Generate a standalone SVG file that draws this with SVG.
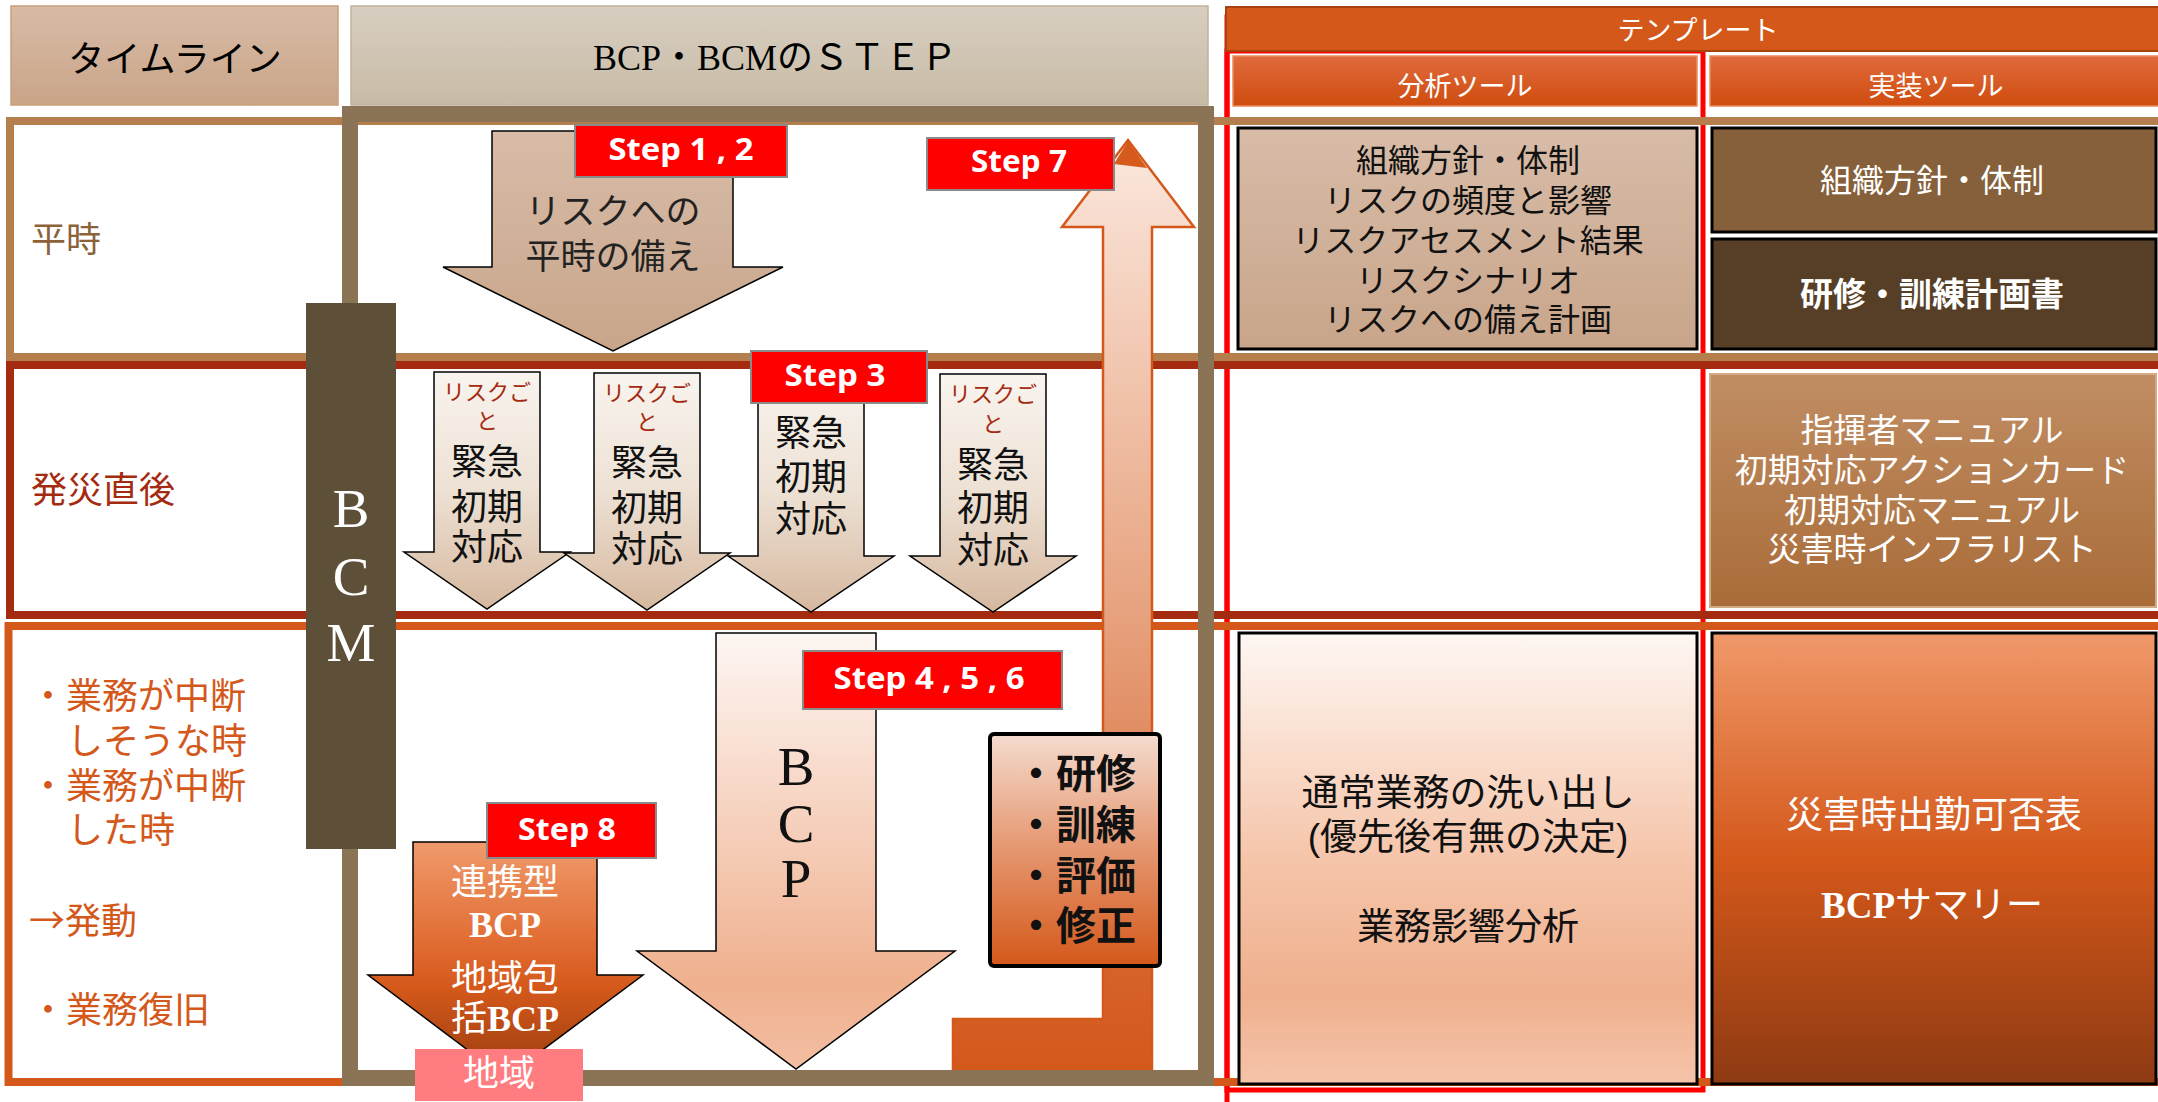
<svg xmlns="http://www.w3.org/2000/svg" width="2158" height="1102" viewBox="0 0 2158 1102">
<defs>
<style>
.jp{font-family:"Liberation Sans","Noto Sans CJK JP",sans-serif}
.cjk{font-family:"Noto Sans CJK JP",sans-serif}
.ser{font-family:"Liberation Serif","Noto Sans CJK JP",serif}
.step{font-family:"Noto Sans","Liberation Sans",sans-serif;font-weight:700;fill:#fff;font-size:30px;text-anchor:middle}
.stepbox{fill:#ff0000;stroke:#8a8a8a;stroke-width:2}
.mid{text-anchor:middle}
.arr{stroke:#000;stroke-width:1.5}
.tbox{stroke:#000;stroke-width:3}
</style>
<linearGradient id="gTime" x1="0" y1="0" x2="0" y2="1"><stop offset="0" stop-color="#d8bba5"/><stop offset="1" stop-color="#c9a589"/></linearGradient>
<linearGradient id="gStepHead" x1="0" y1="0" x2="0" y2="1"><stop offset="0" stop-color="#d8cfc2"/><stop offset="1" stop-color="#c8bba5"/></linearGradient>
<linearGradient id="gTool" x1="0" y1="0" x2="0" y2="1"><stop offset="0" stop-color="#e06b3d"/><stop offset="1" stop-color="#cf4c0e"/></linearGradient>
<linearGradient id="gTan" x1="0" y1="0" x2="0" y2="1"><stop offset="0" stop-color="#d8bca8"/><stop offset="1" stop-color="#c8a58a"/></linearGradient>
<linearGradient id="gS3" x1="0" y1="0" x2="0" y2="1"><stop offset="0" stop-color="#f9f4ef"/><stop offset="0.5" stop-color="#ede1d4"/><stop offset="1" stop-color="#d6b89f"/></linearGradient>
<linearGradient id="gBCP" x1="0" y1="0" x2="0" y2="1"><stop offset="0" stop-color="#fdf6f3"/><stop offset="0.5" stop-color="#f5cbb5"/><stop offset="0.8" stop-color="#efb08e"/><stop offset="1" stop-color="#f3bea2"/></linearGradient>
<linearGradient id="gS8" x1="0" y1="0" x2="0" y2="1"><stop offset="0" stop-color="#f09a6b"/><stop offset="0.45" stop-color="#e06a30"/><stop offset="0.62" stop-color="#d4581a"/><stop offset="1" stop-color="#983c10"/></linearGradient>
<linearGradient id="gUp" x1="0" y1="0" x2="0" y2="1"><stop offset="0" stop-color="#fbe8de"/><stop offset="0.23" stop-color="#f2c8b2"/><stop offset="0.52" stop-color="#e6a07c"/><stop offset="0.89" stop-color="#d6622a"/><stop offset="1" stop-color="#d4581a"/></linearGradient>
<linearGradient id="gTrain" x1="0" y1="0" x2="0" y2="1"><stop offset="0" stop-color="#f4dccf"/><stop offset="0.5" stop-color="#e5966f"/><stop offset="1" stop-color="#d4581a"/></linearGradient>
<linearGradient id="gImplEm" x1="0" y1="0" x2="0" y2="1"><stop offset="0" stop-color="#c08d63"/><stop offset="1" stop-color="#a96c38"/></linearGradient>
<linearGradient id="gAnaBot" x1="0" y1="0" x2="0" y2="1"><stop offset="0" stop-color="#fef7f3"/><stop offset="0.5" stop-color="#f5c5aa"/><stop offset="0.8" stop-color="#efb08e"/><stop offset="1" stop-color="#f5c4aa"/></linearGradient>
<linearGradient id="gImplBot" x1="0" y1="0" x2="0" y2="1"><stop offset="0" stop-color="#f0996a"/><stop offset="0.5" stop-color="#d4581a"/><stop offset="1" stop-color="#8e3a13"/></linearGradient>
</defs>
<rect width="2158" height="1102" fill="#ffffff"/>

<g id="red-frames" fill="none" stroke="#ff0000" stroke-width="5">
<rect x="1227" y="17" width="1000" height="1200"/>
<rect x="1227" y="51" width="476" height="1039"/>
</g>

<g id="rows" fill="none" stroke-width="8">
<rect id="row-heiji" x="10" y="121" width="2200" height="236" stroke="#b47f4c"/>
<rect id="row-hassai" x="10" y="365" width="2200" height="250" stroke="#a52b10"/>
<rect id="row-gyomu" x="8.5" y="626" width="2200" height="456" stroke="#d4581a"/>
</g>

<g id="hdr-timeline">
<rect x="11" y="6" width="327" height="99" fill="url(#gTime)" stroke="#c8a07c" stroke-width="1.5"/>
<text class="jp mid" x="175" y="72" font-size="36" fill="#000">タイムライン</text>
</g>
<g id="hdr-steps">
<rect x="351" y="6" width="857" height="99" fill="url(#gStepHead)" stroke="#bfb29c" stroke-width="1.5"/>
<text class="ser mid" x="775" y="70" font-size="36" fill="#000">BCP・BCMのＳＴＥＰ</text>
</g>
<g id="hdr-template">
<rect x="1226" y="7" width="950" height="44" fill="#d4581a" stroke="#a8430f" stroke-width="2"/>
<text class="jp mid" x="1698" y="40" font-size="27" fill="#fff">テンプレート</text>
</g>
<g id="hdr-analysis">
<rect x="1233" y="56" width="464" height="50" fill="url(#gTool)" stroke="#ec8a5e" stroke-width="1.5"/>
<text class="jp mid" x="1465" y="96" font-size="27" fill="#fff">分析ツール</text>
</g>
<g id="hdr-impl">
<rect x="1710" y="56" width="460" height="50" fill="url(#gTool)" stroke="#ec8a5e" stroke-width="1.5"/>
<text class="jp mid" x="1936" y="96" font-size="27" fill="#fff">実装ツール</text>
</g>

<g id="timeline-labels" class="jp">
<text x="31" y="252" font-size="35" fill="#8c6239">平時</text>
<text x="31" y="503" font-size="36" fill="#a52b10">発災直後</text>
<g fill="#d4581a" font-size="36">
<text x="30" y="709">・業務が中断</text>
<text x="67" y="754">しそうな時</text>
<text x="30" y="799">・業務が中断</text>
<text x="67" y="843">した時</text>
<text class="cjk" x="29" y="934">→発動</text>
<text x="30" y="1023">・業務復旧</text>
</g>
</g>

<g id="connectors">
<polygon id="loop-arrow" points="953,1019 1103,1019 1103,227 1062,227 1128,140 1194,227 1152,227 1152,1075 953,1075" fill="url(#gUp)" stroke="#d4581a" stroke-width="2.5"/>
<polygon points="1128,141 1114,164 1147,168" fill="#d65a1c"/>
</g>

<g id="bcp-frame">
<rect x="350" y="114" width="856" height="964" fill="none" stroke="#8b7455" stroke-width="16"/>
</g>

<g id="bcm-bar">
<rect x="306" y="303" width="90" height="546" fill="#5e4f39"/>
<g class="ser mid" font-size="55" fill="#fff">
<text x="351" y="527">B</text>
<text x="351" y="595">C</text>
<text x="351" y="661">M</text>
</g>
</g>

<g id="arrow-heiji">
<polygon class="arr" points="492,131 733,131 733,267 783,267 613,351 443,267 492,267" fill="url(#gTan)"/>
<text class="jp mid" x="613" y="224" font-size="35" fill="#222">リスクへの</text>
<text class="jp mid" x="613" y="269" font-size="35" fill="#222">平時の備え</text>
</g>

<g id="arrow-em1">
<polygon class="arr" points="434,372 540,372 540,552 570,552 487,609 404,552 434,552" fill="url(#gS3)"/>
<text class="jp mid" x="487" y="400" font-size="22" fill="#a52b10">リスクご</text>
<text class="jp mid" x="487" y="429" font-size="22" fill="#a52b10">と</text>
<text class="jp mid" x="487" y="475" font-size="36" fill="#111">緊急</text>
<text class="jp mid" x="487" y="520" font-size="36" fill="#111">初期</text>
<text class="jp mid" x="487" y="560" font-size="36" fill="#111">対応</text>
</g>
<g id="arrow-em2">
<polygon class="arr" points="594,373 700,373 700,553 730,553 647,610 564,553 594,553" fill="url(#gS3)"/>
<text class="jp mid" x="647" y="401" font-size="22" fill="#a52b10">リスクご</text>
<text class="jp mid" x="647" y="430" font-size="22" fill="#a52b10">と</text>
<text class="jp mid" x="647" y="476" font-size="36" fill="#111">緊急</text>
<text class="jp mid" x="647" y="521" font-size="36" fill="#111">初期</text>
<text class="jp mid" x="647" y="562" font-size="36" fill="#111">対応</text>
</g>
<g id="arrow-em3">
<polygon class="arr" points="758,372 864,372 864,556 894,556 811,612 728,556 758,556" fill="url(#gS3)"/>
<text class="jp mid" x="811" y="446" font-size="36" fill="#111">緊急</text>
<text class="jp mid" x="811" y="490" font-size="36" fill="#111">初期</text>
<text class="jp mid" x="811" y="532" font-size="36" fill="#111">対応</text>
</g>
<g id="arrow-em4">
<polygon class="arr" points="940,374 1046,374 1046,556 1076,556 993,612 910,556 940,556" fill="url(#gS3)"/>
<text class="jp mid" x="993" y="402" font-size="22" fill="#a52b10">リスクご</text>
<text class="jp mid" x="993" y="432" font-size="22" fill="#a52b10">と</text>
<text class="jp mid" x="993" y="478" font-size="36" fill="#111">緊急</text>
<text class="jp mid" x="993" y="521" font-size="36" fill="#111">初期</text>
<text class="jp mid" x="993" y="563" font-size="36" fill="#111">対応</text>
</g>

<g id="arrow-bcp">
<polygon class="arr" points="716,633 876,633 876,951 955,951 796,1069 637,951 716,951" fill="url(#gBCP)"/>
<g class="ser mid" font-size="55" fill="#111">
<text x="796" y="785">B</text>
<text x="796" y="842">C</text>
<text x="796" y="897">P</text>
</g>
</g>

<g id="arrow-step8">
<polygon class="arr" points="413,842 597,842 597,975 643,975 505,1078 368,975 413,975" fill="url(#gS8)"/>
<g class="ser mid" font-size="36" fill="#fff">
<text x="505" y="895">連携型</text>
<text x="505" y="937" font-weight="700">BCP</text>
<text x="505" y="991">地域包</text>
<text x="505" y="1031">括<tspan font-weight="700">BCP</tspan></text>
</g>
</g>

<g id="region">
<rect x="415" y="1049" width="168" height="52" fill="#ff7c80"/>
<text class="jp mid" x="499" y="1086" font-size="36" fill="#fff">地域</text>
</g>

<g id="training">
<rect x="990" y="734" width="170" height="232" rx="4" fill="url(#gTrain)" stroke="#000" stroke-width="4"/>
<g class="jp mid" font-size="40" font-weight="700" fill="#111">
<text x="1076" y="788">・研修</text>
<text x="1076" y="839">・訓練</text>
<text x="1076" y="890">・評価</text>
<text x="1076" y="940">・修正</text>
</g>
</g>

<g id="step12"><rect class="stepbox" x="575" y="125" width="212" height="52"/><text class="step" x="681" y="160" textLength="145" lengthAdjust="spacingAndGlyphs">Step 1 , 2</text></g>
<g id="step7"><rect class="stepbox" x="927" y="138" width="187" height="52"/><text class="step" x="1019" y="172" textLength="96" lengthAdjust="spacingAndGlyphs">Step 7</text></g>
<g id="step3"><rect class="stepbox" x="751" y="351" width="176" height="52"/><text class="step" x="835" y="386" textLength="101" lengthAdjust="spacingAndGlyphs">Step 3</text></g>
<g id="step456"><rect class="stepbox" x="803" y="651" width="259" height="58"/><text class="step" x="929" y="689" textLength="191" lengthAdjust="spacingAndGlyphs">Step 4 , 5 , 6</text></g>
<g id="step8"><rect class="stepbox" x="487" y="803" width="169" height="55"/><text class="step" x="567" y="840" textLength="98" lengthAdjust="spacingAndGlyphs">Step 8</text></g>

<g id="tpl-ana-heiji">
<rect class="tbox" x="1238" y="128" width="459" height="221" fill="url(#gTan)"/>
<g class="jp mid" font-size="32" fill="#111">
<text x="1468" y="172">組織方針・体制</text>
<text x="1468" y="212">リスクの頻度と影響</text>
<text x="1468" y="252">リスクアセスメント結果</text>
<text x="1468" y="292">リスクシナリオ</text>
<text x="1468" y="331">リスクへの備え計画</text>
</g>
</g>
<g id="tpl-impl-policy">
<rect class="tbox" x="1712" y="128" width="444" height="104" fill="#86603a"/>
<text class="jp mid" x="1932" y="192" font-size="32" fill="#fff">組織方針・体制</text>
</g>
<g id="tpl-impl-training">
<rect class="tbox" x="1712" y="239" width="444" height="110" fill="#573f27"/>
<text class="jp mid" x="1932" y="306" font-size="33" font-weight="700" fill="#fff">研修・訓練計画書</text>
</g>
<g id="tpl-impl-emergency">
<rect x="1710" y="374" width="446" height="233" fill="url(#gImplEm)" stroke="#d2ab86" stroke-width="2"/>
<g class="jp mid" font-size="33" fill="#fff">
<text x="1932" y="442">指揮者マニュアル</text>
<text x="1932" y="482">初期対応アクションカード</text>
<text x="1932" y="522">初期対応マニュアル</text>
<text x="1932" y="561">災害時インフラリスト</text>
</g>
</g>
<g id="tpl-ana-bia">
<rect class="tbox" x="1239" y="633" width="458" height="451" fill="url(#gAnaBot)"/>
<g class="jp mid" font-size="37" fill="#111">
<text x="1468" y="806">通常業務の洗い出し</text>
<text x="1468" y="850">(優先後有無の決定)</text>
<text x="1468" y="940">業務影響分析</text>
</g>
</g>
<g id="tpl-impl-bcp">
<rect class="tbox" x="1712" y="633" width="444" height="451" fill="url(#gImplBot)"/>
<text class="jp mid" x="1934" y="828" font-size="37" fill="#fff">災害時出勤可否表</text>
<text class="ser mid" x="1932" y="918" font-size="37" fill="#fff"><tspan font-weight="700">BCP</tspan>サマリー</text>
</g>
</svg>
